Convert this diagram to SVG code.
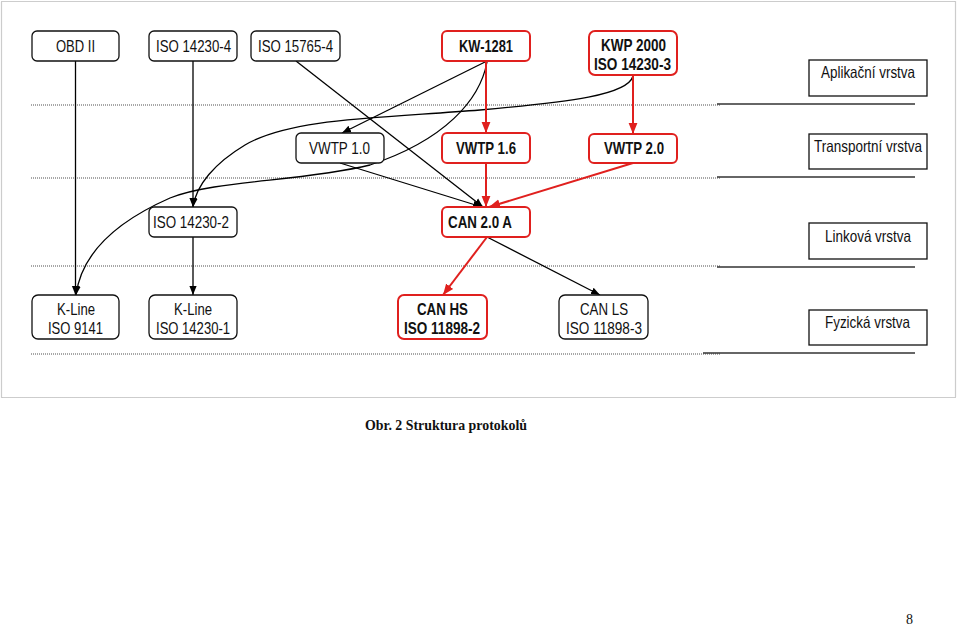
<svg xmlns="http://www.w3.org/2000/svg" width="959" height="633" viewBox="0 0 959 633">
<style>
.bg{fill:#fff}
.frame{fill:none;stroke:#9a9a9a;stroke-width:1.2;stroke-dasharray:1 1}
.dot{stroke:#8a8a8a;stroke-width:1.3;stroke-dasharray:1 1}
.sol{stroke:#333;stroke-width:1.4}
.n{fill:#fff;stroke:#111;stroke-width:1.3}
.r{fill:#fff;stroke:#e0201e;stroke-width:2}
.lay{fill:#fff;stroke:#111;stroke-width:1.3}
text{font-family:"Liberation Sans",Arial,sans-serif;font-size:17px;fill:#111}
.b{font-weight:bold}
.l{font-size:16.5px}
.e{fill:none;stroke:#000;stroke-width:1.3}
.er{fill:none;stroke:#e0201e;stroke-width:2}
.cap{font-family:"Liberation Serif","Times New Roman",serif;font-weight:bold;font-size:14.5px}
.pg{font-family:"Liberation Serif","Times New Roman",serif;font-size:14px}
</style>
<defs>
<marker id="ab" viewBox="0 0 10 10" refX="10" refY="5" markerWidth="9" markerHeight="9" markerUnits="userSpaceOnUse" orient="auto"><path d="M0,1 L10,5 L0,9 z" fill="#000"/></marker>
<marker id="ar" viewBox="0 0 10 10" refX="10" refY="5" markerWidth="11" markerHeight="11" markerUnits="userSpaceOnUse" orient="auto"><path d="M0,1 L10,5 L0,9 z" fill="#e0201e"/></marker>
</defs>
<rect class="bg" x="0" y="0" width="959" height="633"/>
<rect class="frame" x="1.5" y="1.5" width="954" height="396"/>
<g id="layers">
<line class="dot" x1="31" y1="105" x2="720" y2="105"/>
<line class="sol" x1="717" y1="104" x2="915" y2="104"/>
<line class="dot" x1="31" y1="178" x2="720" y2="178"/>
<line class="sol" x1="717" y1="177" x2="915" y2="177"/>
<line class="dot" x1="31" y1="266" x2="720" y2="266"/>
<line class="sol" x1="717" y1="267" x2="915" y2="267"/>
<line class="dot" x1="31" y1="354" x2="720" y2="354"/>
<line class="sol" x1="703" y1="353" x2="915" y2="353"/>
</g>
<g id="connectors">
<line class="e" x1="75.5" y1="61" x2="75.5" y2="295" marker-end="url(#ab)"/>
<line class="e" x1="193" y1="61" x2="193" y2="207" marker-end="url(#ab)"/>
<line class="e" x1="193" y1="237" x2="193" y2="295" marker-end="url(#ab)"/>
<line class="e" x1="296" y1="61" x2="483" y2="207" marker-end="url(#ab)"/>
<line class="e" x1="487" y1="61" x2="342" y2="133" marker-end="url(#ab)"/>
<path class="e" d="M487,62 C480,100 445,140 370,165 C300,182 215,180 170,198 C120,220 82,250 76,295" marker-end="url(#ab)"/>
<path class="e" d="M633,76 C628,95 570,102 480,110 C380,118 290,118 245,145 C215,163 196,185 193,207" marker-end="url(#ab)"/>
<line class="e" x1="340" y1="163" x2="482" y2="207" marker-end="url(#ab)"/>
<line class="er" x1="486" y1="61" x2="486" y2="133" marker-end="url(#ar)"/>
<line class="er" x1="633" y1="75" x2="633" y2="134" marker-end="url(#ar)"/>
<line class="er" x1="486" y1="163" x2="486" y2="207" marker-end="url(#ar)"/>
<line class="er" x1="633" y1="163" x2="489" y2="207" marker-end="url(#ar)"/>
<line class="er" x1="487" y1="237" x2="443" y2="295" marker-end="url(#ar)"/>
<line class="e" x1="487" y1="237" x2="600" y2="295" marker-end="url(#ab)"/>
</g>
<g id="obd2"><rect class="n" x="32" y="31" width="87" height="30" rx="5"/><text x="75.5" y="52" text-anchor="middle" textLength="39" lengthAdjust="spacingAndGlyphs">OBD II</text></g>
<g id="iso14230-4"><rect class="n" x="149" y="31" width="88" height="30" rx="5"/><text x="193.5" y="52" text-anchor="middle" textLength="75" lengthAdjust="spacingAndGlyphs">ISO 14230-4</text></g>
<g id="iso15765-4"><rect class="n" x="251" y="31" width="89" height="30" rx="5"/><text x="295.5" y="52" text-anchor="middle" textLength="75" lengthAdjust="spacingAndGlyphs">ISO 15765-4</text></g>
<g id="kw1281"><rect class="r" x="442" y="31" width="88" height="30" rx="5"/><text class="b" x="486" y="52" text-anchor="middle" textLength="54" lengthAdjust="spacingAndGlyphs">KW-1281</text></g>
<g id="kwp2000"><rect class="r" x="589" y="31" width="88" height="44" rx="6"/><text class="b" x="633.5" y="50.5" text-anchor="middle" textLength="65" lengthAdjust="spacingAndGlyphs">KWP 2000</text><text class="b" x="632.5" y="69.5" text-anchor="middle" textLength="77" lengthAdjust="spacingAndGlyphs">ISO 14230-3</text></g>
<g id="aplikacni"><rect class="lay" x="809" y="60" width="118" height="36"/><text class="l" x="868" y="78" text-anchor="middle" textLength="94" lengthAdjust="spacingAndGlyphs">Aplikační vrstva</text></g>
<g id="vwtp10"><rect class="n" x="296" y="133" width="88" height="30" rx="5"/><text x="339.5" y="154" text-anchor="middle" textLength="61" lengthAdjust="spacingAndGlyphs">VWTP 1.0</text></g>
<g id="vwtp16"><rect class="r" x="442" y="133" width="88" height="30" rx="5"/><text class="b" x="486" y="154" text-anchor="middle" textLength="60" lengthAdjust="spacingAndGlyphs">VWTP 1.6</text></g>
<g id="vwtp20"><rect class="r" x="589" y="134" width="88" height="29" rx="5"/><text class="b" x="634" y="154" text-anchor="middle" textLength="60" lengthAdjust="spacingAndGlyphs">VWTP 2.0</text></g>
<g id="transportni"><rect class="lay" x="809" y="134" width="118" height="35"/><text class="l" x="868" y="152" text-anchor="middle" textLength="108" lengthAdjust="spacingAndGlyphs">Transportní vrstva</text></g>
<g id="iso14230-2"><rect class="n" x="149" y="207" width="88" height="30" rx="5"/><text x="191" y="228" text-anchor="middle" textLength="76" lengthAdjust="spacingAndGlyphs">ISO 14230-2</text></g>
<g id="can20a"><rect class="r" x="442" y="207" width="88" height="30" rx="5"/><text class="b" x="448" y="228" textLength="64" lengthAdjust="spacingAndGlyphs">CAN 2.0 A</text></g>
<g id="linkova"><rect class="lay" x="809" y="223" width="118" height="36"/><text class="l" x="868" y="242" text-anchor="middle" textLength="86" lengthAdjust="spacingAndGlyphs">Linková vrstva</text></g>
<g id="kline9141"><rect class="n" x="32" y="295" width="87" height="44" rx="6"/><text x="76" y="315" text-anchor="middle" textLength="38" lengthAdjust="spacingAndGlyphs">K-Line</text><text x="75.5" y="334" text-anchor="middle" textLength="55" lengthAdjust="spacingAndGlyphs">ISO 9141</text></g>
<g id="kline14230-1"><rect class="n" x="149" y="295" width="88" height="44" rx="6"/><text x="193" y="315" text-anchor="middle" textLength="38" lengthAdjust="spacingAndGlyphs">K-Line</text><text x="193" y="334" text-anchor="middle" textLength="74" lengthAdjust="spacingAndGlyphs">ISO 14230-1</text></g>
<g id="canhs"><rect class="r" x="398" y="295" width="89" height="44" rx="6"/><text class="b" x="442.5" y="315" text-anchor="middle" textLength="51" lengthAdjust="spacingAndGlyphs">CAN HS</text><text class="b" x="442" y="334" text-anchor="middle" textLength="76" lengthAdjust="spacingAndGlyphs">ISO 11898-2</text></g>
<g id="canls"><rect class="n" x="559" y="295" width="89" height="44" rx="6"/><text x="604" y="315" text-anchor="middle" textLength="48" lengthAdjust="spacingAndGlyphs">CAN LS</text><text x="604" y="334" text-anchor="middle" textLength="76" lengthAdjust="spacingAndGlyphs">ISO 11898-3</text></g>
<g id="fyzicka"><rect class="lay" x="809" y="310" width="118" height="35"/><text class="l" x="867.5" y="327.5" text-anchor="middle" textLength="85" lengthAdjust="spacingAndGlyphs">Fyzická vrstva</text></g>
<text class="cap" x="365" y="430" textLength="162" lengthAdjust="spacingAndGlyphs">Obr. 2 Struktura protokolů</text>
<text class="pg" x="906" y="624">8</text>
</svg>
